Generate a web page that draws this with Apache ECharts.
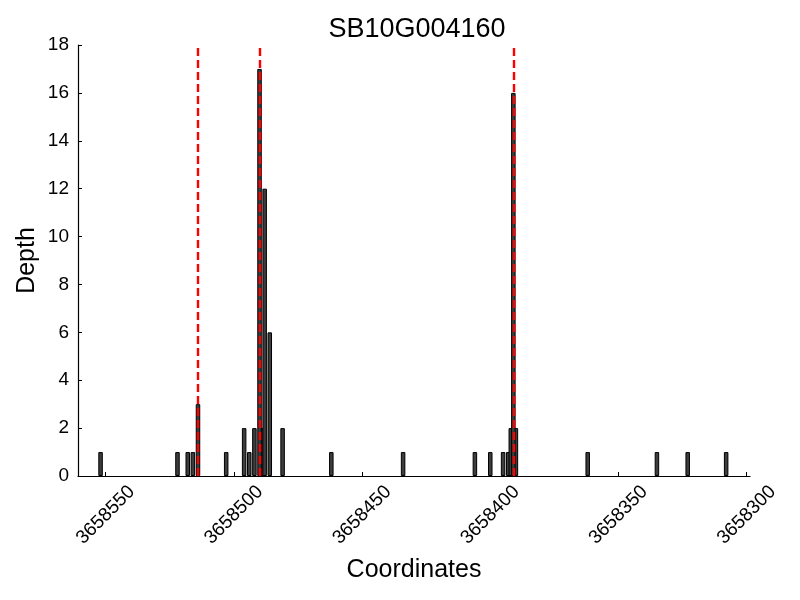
<!DOCTYPE html>
<html>
<head>
<meta charset="utf-8">
<script src="https://cdn.jsdelivr.net/npm/echarts@6/dist/echarts.min.js"></script>
<style>html,body{margin:0;padding:0;background:#fff}#c{width:800px;height:600px}</style>
</head>
<body>
<div id="c"></div>
<script>
var titleText = 'SB10G004160';
var positions = [3658552, 3658522, 3658518, 3658516, 3658514, 3658503, 3658496, 3658494, 3658492, 3658489, 3658486, 3658488, 3658490, 3658481, 3658462, 3658434, 3658406, 3658400, 3658395, 3658393, 3658392, 3658390, 3658391, 3658362, 3658335, 3658323, 3658308];
var depths    = [1, 1, 1, 1, 3, 1, 2, 1, 2, 2, 6, 12, 17, 2, 1, 1, 1, 1, 1, 1, 2, 2, 16, 1, 1, 1, 1];
var redLines = [3658514, 3658490, 3658391];
var xTicks = [3658550, 3658500, 3658450, 3658400, 3658350, 3658300];
var yTicks = [0, 2, 4, 6, 8, 10, 12, 14, 16, 18];

var font = 'Liberation Sans, Arial, Helvetica, sans-serif';
var data = positions.map(function (p, i) { return [p, depths[i]]; });

var chart = echarts.init(document.getElementById('c'), null, {renderer: 'canvas'});
chart.setOption({
  animation: false,
  title: {
    text: titleText, left: 412, top: 11, textAlign: 'center',
    textStyle: {fontFamily: font, fontSize: 27, fontWeight: 'normal', color: '#000'}
  },
  grid: {left: 78, right: 50, top: 45, bottom: 124, containLabel: false},
  xAxis: {
    type: 'value', inverse: true, min: 3658298.7, max: 3658560.8,
    name: 'Coordinates', nameLocation: 'middle', nameGap: 82,
    nameTextStyle: {fontFamily: font, fontSize: 25, color: '#000'},
    axisLine: {show: true, lineStyle: {color: '#000', width: 1.2}},
    axisTick: {show: true, inside: true, length: 4, lineStyle: {color: '#000'}, customValues: xTicks},
    axisLabel: {rotate: 45, align: 'center', verticalAlign: 'middle', fontFamily: font, fontSize: 19, color: '#000', margin: 39, customValues: xTicks,
      formatter: function (v) { return String(v); }},
    splitLine: {show: false}
  },
  yAxis: {
    type: 'value', min: 0, max: 18, interval: 2,
    name: 'Depth', nameLocation: 'middle', nameGap: 38, nameMoveOverlap: false,
    nameTextStyle: {fontFamily: font, fontSize: 25, color: '#000'},
    axisLine: {show: true, lineStyle: {color: '#000', width: 1.2}},
    axisTick: {show: true, inside: true, length: 4, lineStyle: {color: '#000'}, customValues: yTicks},
    axisLabel: {fontFamily: font, fontSize: 19, color: '#000', margin: 9, customValues: yTicks},
    splitLine: {show: false}
  },
  series: [{
    type: 'bar',
    data: data,
    barWidth: 4.5,
    itemStyle: {color: '#3d3d3d', borderColor: '#000', borderWidth: 1},
    markLine: {
      silent: true, symbol: ['none', 'none'], label: {show: false},
      lineStyle: {color: '#ff0000', width: 2.4, type: [8, 4]},
      data: redLines.map(function (x) { return {xAxis: x}; })
    }
  }]
});
</script>
</body>
</html>
